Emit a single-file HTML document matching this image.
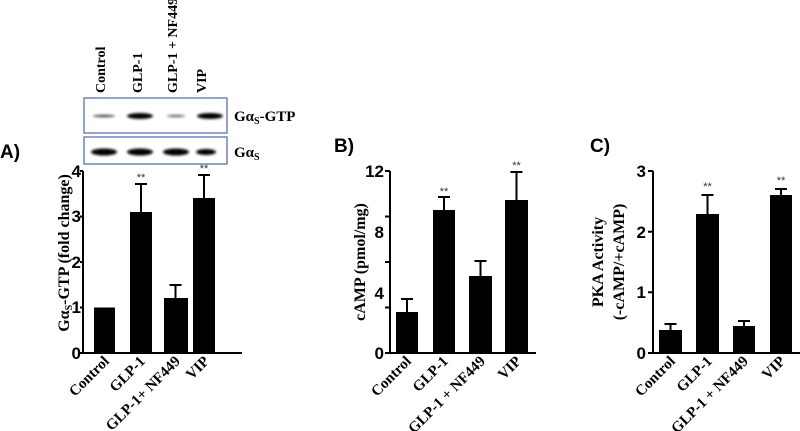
<!DOCTYPE html>
<html><head><meta charset="utf-8"><style>
body{margin:0;background:#fff;}
svg{display:block;}
text{font-family:"Liberation Serif",serif;font-weight:bold;}
text.sn{font-family:"Liberation Sans",sans-serif;}
text.st{font-family:"Liberation Sans",sans-serif;font-weight:normal;font-size:11px;fill:#333;}
</style></head><body>
<svg width="800" height="431" viewBox="0 0 800 431">
<defs><filter id="bl"><feGaussianBlur stdDeviation="1.3"/></filter></defs>
<g style="font-size:14px">
<text transform="translate(105,93) rotate(-90)">Control</text>
<text transform="translate(142,93) rotate(-90)">GLP-1</text>
<text transform="translate(177,93) rotate(-90)">GLP-1 + NF449</text>
<text transform="translate(206,93) rotate(-90)">VIP</text>
</g>
<rect x="84" y="98" width="143" height="35" fill="none" stroke="#5a74a8" stroke-width="1.3"/>
<rect x="84" y="137" width="143" height="27" fill="none" stroke="#5a74a8" stroke-width="1.3"/>
<g filter="url(#bl)" fill="#000">
<ellipse cx="104" cy="116" rx="11" ry="1.2" fill="#444"/>
<ellipse cx="140" cy="116" rx="13" ry="3"/>
<ellipse cx="176" cy="116" rx="9" ry="1.2" fill="#666"/>
<ellipse cx="210" cy="116" rx="13" ry="3"/>
<ellipse cx="104" cy="152" rx="13" ry="3.5"/>
<ellipse cx="140" cy="152" rx="13" ry="3.5"/>
<ellipse cx="176" cy="152" rx="13" ry="3.5"/>
<ellipse cx="206" cy="152" rx="10" ry="3"/>
</g>
<text x="234" y="121" style="font-size:15px">Gα<tspan style="font-size:10px" dy="3">S</tspan><tspan dy="-3">-GTP</tspan></text>
<text x="234" y="157" style="font-size:15px">Gα<tspan style="font-size:10px" dy="3">S</tspan></text>

<g style="font-size:19px">
<text class="sn" x="0" y="158">A)</text>
<text class="sn" x="334" y="152">B)</text>
<text class="sn" x="590" y="152">C)</text>
</g>

<g stroke="#000" stroke-width="2" fill="none">
<path d="M83,171V353H242"/>
<path d="M80,171H83M80,216.5H83M80,262H83M80,307.5H83M80,353H83"/>
<path d="M390,171V353H536"/>
<path d="M385,171H390M385,216.5H390M385,262H390M385,307.5H390M385,353H390"/>
<path d="M653,171V353H800"/>
<path d="M648,171H653M648,231.7H653M648,292.3H653M648,353H653"/>
<path d="M141,212V184M135,184H147M175.5,298V285M169.5,285H181.5M204,198V175M198,175H210"/>
<path d="M407,312V299M401,299H413M444,210V197M438,197H450M480.5,276V261M474.5,261H486.5M516.5,200V172M510.5,172H522.5"/>
<path d="M670.5,330V324M664.5,324H676.5M707.5,214V195M701.5,195H713.5M744,326V321M738,321H750M781,195V189M775,189H787"/>
</g>
<g fill="#000">
<rect x="94" y="307.5" width="21" height="45.5"/>
<rect x="130" y="212" width="22" height="141"/>
<rect x="164" y="298" width="24" height="55"/>
<rect x="193" y="198" width="22" height="155"/>
<rect x="396" y="312" width="22" height="41"/>
<rect x="433" y="210" width="22" height="143"/>
<rect x="469" y="276" width="23" height="77"/>
<rect x="505" y="200" width="23" height="153"/>
<rect x="659" y="330" width="23" height="23"/>
<rect x="696" y="214" width="23" height="139"/>
<rect x="733" y="326" width="22" height="27"/>
<rect x="770" y="195" width="22" height="158"/>
</g>
<g text-anchor="middle">
<text class="st" x="141" y="181">**</text><text class="st" x="204" y="172">**</text>
<text class="st" x="444" y="195">**</text><text class="st" x="516.5" y="169">**</text>
<text class="st" x="707.5" y="190">**</text><text class="st" x="781" y="184">**</text>
</g>
<g style="font-size:17px" text-anchor="end">
<text class="sn" x="81" y="177">4</text><text class="sn" x="81" y="222">3</text><text class="sn" x="81" y="268">2</text><text class="sn" x="81" y="313">1</text><text class="sn" x="81" y="359">0</text>
<text class="sn" x="384" y="177">12</text><text class="sn" x="384" y="238">8</text><text class="sn" x="384" y="299">4</text><text class="sn" x="384" y="359">0</text>
<text class="sn" x="646" y="177">3</text><text class="sn" x="646" y="238">2</text><text class="sn" x="646" y="298">1</text><text class="sn" x="646" y="359">0</text>
</g>
<g style="font-size:16px" text-anchor="middle">
<text transform="translate(69,253) rotate(-90)">Gα<tspan style="font-size:10px" dy="3">S</tspan><tspan dy="-3">-GTP (fold change)</tspan></text>
<text transform="translate(365,262) rotate(-90)">cAMP (pmol/mg)</text>
<text transform="translate(603,262) rotate(-90)">PKA Activity</text>
<text transform="translate(624,262) rotate(-90)">(-cAMP/+cAMP)</text>
</g>
<g style="font-size:15px" text-anchor="end">
<text transform="translate(110,362) rotate(-45)">Control</text>
<text transform="translate(146,362) rotate(-45)">GLP-1</text>
<text transform="translate(181,362) rotate(-45)">GLP-1+ NF449</text>
<text transform="translate(210,362) rotate(-45)">VIP</text>
<text transform="translate(412,362) rotate(-45)">Control</text>
<text transform="translate(449,362) rotate(-45)">GLP-1</text>
<text transform="translate(486,362) rotate(-45)">GLP-1 + NF449</text>
<text transform="translate(522,362) rotate(-45)">VIP</text>
<text transform="translate(676,362) rotate(-45)">Control</text>
<text transform="translate(713,362) rotate(-45)">GLP-1</text>
<text transform="translate(749,362) rotate(-45)">GLP-1 + NF449</text>
<text transform="translate(786,362) rotate(-45)">VIP</text>
</g>
</svg>
</body></html>
